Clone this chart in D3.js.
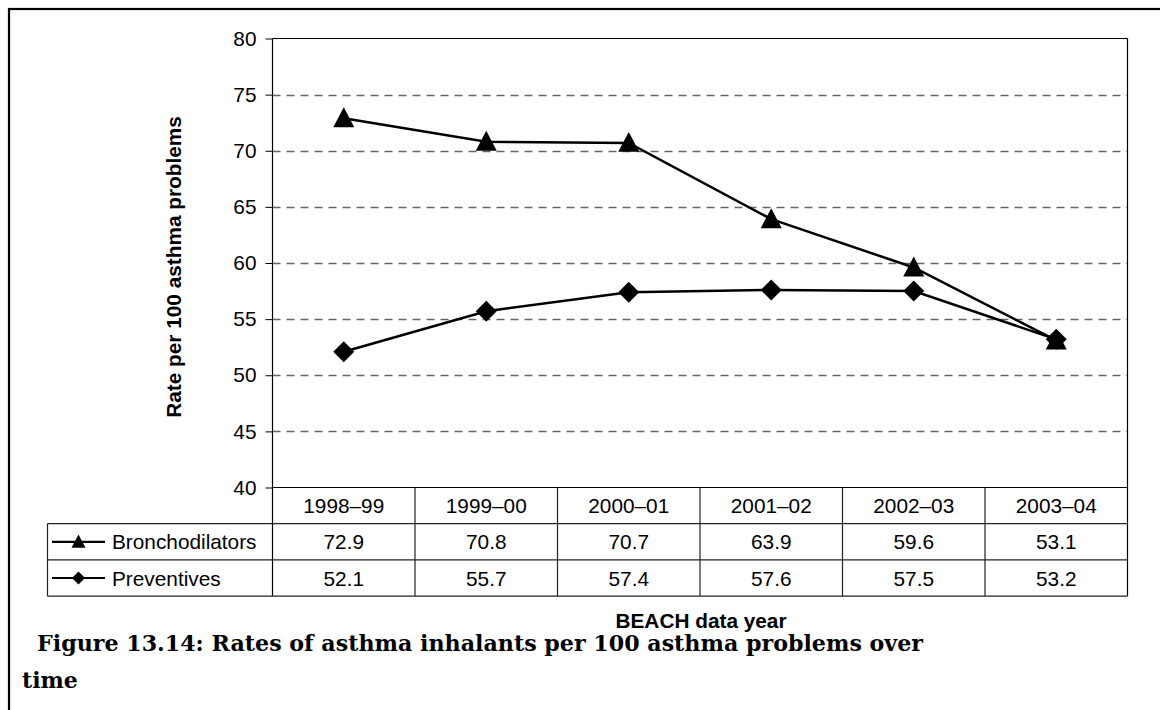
<!DOCTYPE html>
<html>
<head>
<meta charset="utf-8">
<script src="https://cdn.jsdelivr.net/npm/d3@7"></script>
<style>
  html, body { margin: 0; padding: 0; background: #fff; }
  svg { display: block; }
</style>
</head>
<body>
<svg id="chart" width="1160" height="710"></svg>
<script>
// ---- data ----
const years = ["1998–99", "1999–00", "2000–01", "2001–02", "2002–03", "2003–04"];
const bronchodilators = [72.9, 70.8, 70.7, 63.9, 59.6, 53.1];
const preventives = [52.1, 55.7, 57.4, 57.6, 57.5, 53.2];
const seriesNames = ["Bronchodilators", "Preventives"];
const yTicks = [40, 45, 50, 55, 60, 65, 70, 75, 80];
const yTitle = "Rate per 100 asthma problems";
const xTitle = "BEACH data year";
const captionLines = ["Figure 13.14: Rates of asthma inhalants per 100 asthma problems over", "time"];

// ---- layout ----
const W = 1160, H = 710;
const plot = { left: 272.5, right: 1127.5, top: 38.5, bottom: 487.5 };
const rowH = 36.2;
const tableLeft = 47.5;
const font = "'Liberation Sans', Arial, sans-serif";
const fs = 20.8;

const svg = d3.select("#chart");

// outer frame (cropped at right/bottom)
svg.append("rect").attr("x", 9).attr("y", 9).attr("width", 1300).attr("height", 900)
  .attr("fill", "none").attr("stroke", "#000").attr("stroke-width", 2.2);

const x = d3.scaleBand().domain(years).range([plot.left, plot.right]).padding(0);
const y = d3.scaleLinear().domain([40, 80]).range([plot.bottom, plot.top]);

// gridlines
svg.append("g").selectAll("line").data(yTicks.filter(v => v > 40 && v < 80)).join("line")
  .attr("x1", plot.left).attr("x2", plot.right)
  .attr("y1", d => Math.round(y(d)) + 0.5).attr("y2", d => Math.round(y(d)) + 0.5)
  .attr("stroke", "#666").attr("stroke-width", 1.3).attr("stroke-dasharray", "8,6");

// y axis
const yAxis = d3.axisLeft(y).tickValues(yTicks).tickSize(7).tickPadding(9).tickFormat(d3.format("d"));
const gy = svg.append("g").attr("transform", `translate(${plot.left},0)`).call(yAxis);
gy.select(".domain").remove();
gy.selectAll(".tick line").attr("stroke", "#000").attr("stroke-width", 1);
gy.selectAll(".tick text").attr("font-family", font).attr("font-size", fs).attr("fill", "#000");

// plot frame
svg.append("line").attr("x1", plot.left).attr("x2", plot.right).attr("y1", plot.top).attr("y2", plot.top).attr("stroke", "#000").attr("stroke-width", 1.2);
svg.append("line").attr("x1", plot.right).attr("x2", plot.right).attr("y1", plot.top).attr("y2", plot.bottom + 3 * rowH).attr("stroke", "#000").attr("stroke-width", 1.2);
svg.append("line").attr("x1", plot.left).attr("x2", plot.left).attr("y1", plot.top).attr("y2", plot.bottom + 3 * rowH).attr("stroke", "#000").attr("stroke-width", 1.2);
svg.append("line").attr("x1", plot.left).attr("x2", plot.right).attr("y1", plot.bottom).attr("y2", plot.bottom).attr("stroke", "#000").attr("stroke-width", 1.2);

// table lines
const tbl = svg.append("g").attr("stroke", "#222").attr("stroke-width", 1.2);
[1, 2, 3].forEach(r => {
  tbl.append("line").attr("x1", tableLeft).attr("x2", plot.right)
    .attr("y1", plot.bottom + r * rowH).attr("y2", plot.bottom + r * rowH);
});
tbl.append("line").attr("x1", tableLeft).attr("x2", tableLeft).attr("y1", plot.bottom + rowH).attr("y2", plot.bottom + 3 * rowH);
tbl.selectAll(".sep").data(years.slice(1)).join("line")
  .attr("x1", d => x(d)).attr("x2", d => x(d))
  .attr("y1", plot.bottom).attr("y2", plot.bottom + 3 * rowH);

// table text: years
const txt = svg.append("g").attr("font-family", font).attr("font-size", fs).attr("fill", "#000");
txt.selectAll(".yr").data(years).join("text")
  .attr("x", d => x(d) + x.bandwidth() / 2).attr("y", plot.bottom + rowH / 2 + 7.5)
  .attr("text-anchor", "middle").text(d => d);
[bronchodilators, preventives].forEach((vals, r) => {
  txt.selectAll(".v" + r).data(vals).join("text")
    .attr("x", (d, i) => x(years[i]) + x.bandwidth() / 2)
    .attr("y", plot.bottom + (r + 1) * rowH + rowH / 2 + 7.5)
    .attr("text-anchor", "middle").text(d => d.toFixed(1));
});

// marker shapes
function triangle(g, cx, cy, w) {
  const h = w * 0.95;
  g.append("path").attr("d", `M${cx},${cy - h * 0.55} L${cx + w / 2},${cy + h * 0.45} L${cx - w / 2},${cy + h * 0.45} Z`).attr("fill", "#000");
}
function diamond(g, cx, cy, w) {
  const r = w / 2;
  g.append("path").attr("d", `M${cx},${cy - r} L${cx + r},${cy} L${cx},${cy + r} L${cx - r},${cy} Z`).attr("fill", "#000");
}

// lines
const line = d3.line().x((d, i) => x(years[i]) + x.bandwidth() / 2).y(d => y(d));
[bronchodilators, preventives].forEach(vals => {
  svg.append("path").datum(vals).attr("d", line).attr("fill", "none").attr("stroke", "#000").attr("stroke-width", 2.5);
});
const mk = svg.append("g");
preventives.forEach((v, i) => diamond(mk, x(years[i]) + x.bandwidth() / 2, y(v), 21));
bronchodilators.forEach((v, i) => triangle(mk, x(years[i]) + x.bandwidth() / 2, y(v), 21));

// legend in table
seriesNames.forEach((name, r) => {
  const cy = plot.bottom + (r + 1) * rowH + rowH / 2;
  svg.append("line").attr("x1", 52).attr("x2", 105).attr("y1", cy).attr("y2", cy).attr("stroke", "#000").attr("stroke-width", 2.2);
  if (r === 0) triangle(svg, 78.5, cy, 14); else diamond(svg, 78.5, cy, 13);
  svg.append("text").attr("x", 112).attr("y", cy + 7.5).attr("font-family", font).attr("font-size", fs).text(name);
});

// axis titles
svg.append("text").attr("transform", `translate(181,267) rotate(-90)`).attr("text-anchor", "middle")
  .attr("font-family", font).attr("font-size", fs).attr("font-weight", "bold").text(yTitle);
svg.append("text").attr("x", 701).attr("y", 628).attr("text-anchor", "middle")
  .attr("font-family", font).attr("font-size", fs).attr("font-weight", "bold").text(xTitle);

// caption
const cap = svg.append("g").attr("font-family", "'DejaVu Serif', serif").attr("font-weight", "bold").attr("font-size", 22).attr("fill", "#000");
cap.append("text").attr("x", 37).attr("y", 651).attr("textLength", 886).attr("lengthAdjust", "spacingAndGlyphs").text(captionLines[0]);
cap.append("text").attr("x", 22).attr("y", 688).text(captionLines[1]);
</script>
</body>
</html>
